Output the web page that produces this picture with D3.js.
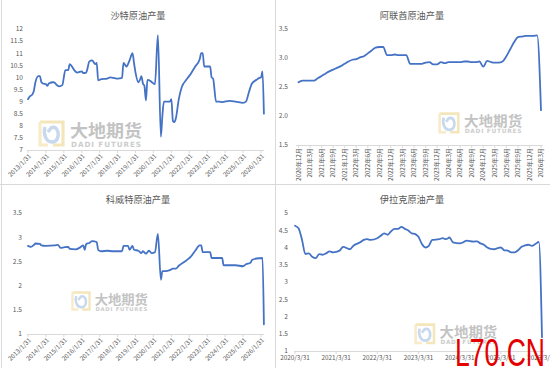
<!DOCTYPE html>
<html><head><meta charset="utf-8">
<script src="https://cdn.jsdelivr.net/npm/d3@7/dist/d3.min.js"></script>
<style>
html,body{margin:0;padding:0;background:#fff;}
svg{display:block;font-family:"Noto Sans CJK SC","Noto Sans",sans-serif;}
</style></head>
<body><svg id="c" width="550" height="368"></svg>
<script>
// ---------------- DATA ----------------
const titles = ["沙特原油产量", "阿联酋原油产量", "科威特原油产量", "伊拉克原油产量"];

const saudiDates = ["2013-01","2013-02","2013-04","2013-05","2013-06","2013-08","2013-09","2013-10","2013-11","2014-01","2014-02","2014-03","2014-06","2014-07","2014-08","2014-10","2014-12","2015-02","2015-04","2015-05","2015-07","2015-08","2015-10","2016-01","2016-02","2016-04","2016-05","2016-06","2016-08","2016-10","2016-11","2016-12","2017-02","2017-06","2017-08","2017-11","2018-01","2018-04","2018-05","2018-07","2018-08","2018-09","2018-11","2018-12","2019-01","2019-03","2019-04","2019-05","2019-06","2019-07","2019-08","2019-09","2019-11","2019-12","2020-02","2020-04","2020-06","2020-07","2020-08","2020-12","2021-01","2021-02","2021-03","2021-04","2021-06","2021-08","2021-11","2022-02","2022-05","2022-08","2022-09","2022-10","2022-11","2023-03","2023-04","2023-05","2023-07","2023-09","2023-11","2024-04","2024-08","2025-01","2025-03","2025-05","2025-07","2025-10","2025-12","2026-01","2026-02","2026-03"];
const saudiValues = [9.1,9.2,9.3,9.45,9.8,10.05,10.05,9.8,9.75,9.72,9.65,9.75,9.8,9.78,9.7,9.63,9.68,10.3,10.3,10.55,10.4,10.3,10.2,10.25,10.18,10.2,10.4,10.65,10.7,10.55,10.6,9.88,9.93,9.95,10.0,9.97,9.95,9.98,10.6,10.45,10.55,10.7,11.0,10.6,10.2,9.8,9.9,10.05,9.75,9.65,9.05,9.9,9.85,9.8,9.72,11.75,7.55,8.4,9.0,9.0,9.1,8.2,8.15,8.3,9.1,9.6,9.9,10.15,10.45,10.75,11.0,11.0,10.45,10.45,10.0,9.95,9.0,9.0,8.98,9.03,9.0,8.95,9.0,9.4,9.75,9.9,9.98,10.0,10.25,8.5];

const kuwaitDates = ["2013-01","2013-03","2013-05","2013-06","2013-09","2013-10","2014-01","2014-07","2014-09","2014-11","2015-01","2015-04","2015-05","2015-09","2015-12","2016-02","2016-03","2016-04","2016-06","2016-08","2016-11","2016-12","2017-02","2017-06","2017-10","2018-04","2018-05","2018-08","2018-09","2018-11","2018-12","2019-03","2019-05","2019-06","2019-08","2019-10","2019-12","2020-02","2020-04","2020-06","2020-07","2020-09","2020-12","2021-02","2021-04","2021-06","2021-11","2022-02","2022-05","2022-08","2022-09","2022-10","2023-03","2023-04","2023-11","2023-12","2024-08","2025-01","2025-03","2025-06","2025-07","2025-10","2026-02","2026-03"];
const kuwaitValues = [2.82,2.8,2.84,2.87,2.86,2.83,2.82,2.83,2.84,2.78,2.79,2.8,2.76,2.75,2.79,2.83,2.74,2.86,2.88,2.92,2.9,2.74,2.71,2.72,2.71,2.71,2.82,2.82,2.74,2.82,2.74,2.72,2.67,2.71,2.66,2.72,2.67,2.69,3.07,2.12,2.3,2.3,2.32,2.35,2.35,2.41,2.52,2.6,2.72,2.83,2.83,2.69,2.69,2.57,2.57,2.42,2.42,2.4,2.44,2.47,2.53,2.56,2.57,1.2];

const uaeStart = "2020-12";
const uaeValues = [2.58,2.61,2.61,2.61,2.61,2.65,2.69,2.73,2.77,2.8,2.83,2.86,2.9,2.94,2.97,2.98,3.01,3.03,3.08,3.13,3.18,3.19,3.19,3.05,3.05,3.06,3.05,3.05,3.05,2.9,2.9,2.9,2.9,2.92,2.93,2.89,2.89,2.93,2.91,2.93,2.93,2.93,2.93,2.94,2.94,2.93,2.93,2.94,2.85,2.95,2.93,2.92,2.92,2.94,3.03,3.15,3.27,3.36,3.37,3.38,3.38,3.38,3.39,2.1];

const iraqDates = ["2020-03","2020-04","2020-05","2020-06","2020-07","2020-08","2020-09","2020-10","2020-11","2020-12","2021-01","2021-02","2021-04","2021-05","2021-07","2021-08","2021-10","2021-11","2021-12","2022-01","2022-03","2022-04","2022-05","2022-06","2022-07","2022-08","2022-09","2022-10","2022-11","2022-12","2023-01","2023-02","2023-03","2023-04","2023-05","2023-06","2023-07","2023-09","2023-10","2023-11","2023-12","2024-01","2024-03","2024-04","2024-05","2024-07","2024-08","2024-09","2024-10","2024-11","2024-12","2025-01","2025-02","2025-03","2025-04","2025-05","2025-06","2025-07","2025-08","2025-09","2025-10","2025-11","2025-12","2026-01","2026-02","2026-03"];
const iraqValues = [4.63,4.56,4.24,3.81,3.83,3.73,3.69,3.81,3.79,3.83,3.89,3.86,3.91,4.02,3.95,4.05,4.15,4.22,4.24,4.22,4.27,4.34,4.41,4.37,4.47,4.54,4.54,4.6,4.54,4.49,4.41,4.39,4.31,4.1,4.0,4.05,4.22,4.24,4.27,4.24,4.29,4.15,4.12,4.15,4.2,4.17,4.18,4.12,4.08,4.0,3.96,3.95,3.98,4.0,3.92,3.91,3.86,3.86,3.92,4.02,4.06,4.08,4.05,4.1,4.16,1.4];

const yearTickDates = ["2013-01","2014-01","2015-01","2016-01","2017-01","2018-01","2019-01","2020-01","2021-01","2022-01","2023-01","2024-01","2025-01","2026-01"];
const yearTickLabels = ["2013/1/31","2014/1/31","2015/1/31","2016/1/31","2017/1/31","2018/1/31","2019/1/31","2020/1/31","2021/1/31","2022/1/31","2023/1/31","2024/1/31","2025/1/31","2026/1/31"];
const uaeTickLabels = ["2020年12月","2021年3月","2021年6月","2021年9月","2021年12月","2022年3月","2022年6月","2022年9月","2022年12月","2023年3月","2023年6月","2023年9月","2023年12月","2024年3月","2024年6月","2024年9月","2024年12月","2025年3月","2025年6月","2025年9月","2025年12月","2026年3月"];
const iraqTickDates = ["2020-03","2021-03","2022-03","2023-03","2024-03","2025-03","2026-03"];
const iraqTickLabels = ["2020/3/31","2021/3/31","2022/3/31","2023/3/31","2024/3/31","2025/3/31","2026/3/31"];

// ---------------- DRAW ----------------
const svg = d3.select("#c");
const pm = d3.timeParse("%Y-%m");
const LINE = "#4472C4", TXT = "#595959", AX = "#d9d9d9";
const fmtNum = d => String(+d.toFixed(1));

// panel separators
svg.append("line").attr("x1",1.5).attr("x2",1.5).attr("y1",0).attr("y2",368).attr("stroke",AX);
svg.append("line").attr("x1",275.5).attr("x2",275.5).attr("y1",0).attr("y2",368).attr("stroke",AX);
svg.append("line").attr("x1",0).attr("x2",550).attr("y1",184.5).attr("y2",184.5).attr("stroke",AX);

function title(cx, y, t){
  svg.append("text").attr("x",cx).attr("y",y).attr("text-anchor","middle")
    .attr("font-size",9.2).attr("fill",TXT).text(t);
}
function yAxis(y, xRight, x0, x1, ticks, fmt){
  const g = svg.append("g");
  ticks.forEach(v => {
    g.append("text").attr("x",xRight).attr("y",y(v)).attr("dy","0.35em")
      .attr("text-anchor","end").attr("font-size",6.6).attr("fill",TXT).text(fmt(v));
  });
  g.append("line").attr("x1",x0).attr("x2",x1).attr("y1",y(ticks[0])+0.5).attr("y2",y(ticks[0])+0.5)
    .attr("stroke",AX).attr("stroke-width",1);
}
function drawLine(data, x, y){
  svg.append("path").datum(data)
    .attr("fill","none").attr("stroke",LINE).attr("stroke-width",1.8)
    .attr("stroke-linejoin","round").attr("stroke-linecap","round")
    .attr("d", d3.line().x(d=>x(d[0])).y(d=>y(d[1])).curve(d3.curveMonotoneX));
}
function logo(x, y, s){
  const g = svg.append("g").attr("transform",`translate(${x},${y}) scale(${s})`).attr("opacity",0.85);
  g.append("path").attr("d","M2,2 H25 V25 H15").attr("fill","none").attr("stroke","#f3e2b0").attr("stroke-width",3.2);
  g.append("path").attr("d","M2,2 V25 H10").attr("fill","none").attr("stroke","#f6e8c0").attr("stroke-width",3.2);
  g.append("path").attr("d","M7,7 C5,14 8,22 14,22 C19,22 21,17 20,12 C19,8 16,6 13,8 L10,12")
    .attr("fill","none").attr("stroke","#bfd2ea").attr("stroke-width",3.4);
  g.append("text").attr("x",32).attr("y",17).attr("font-size",17.5).attr("font-weight",700)
    .attr("fill","#b9b9b9").attr("textLength",72).attr("lengthAdjust","spacingAndGlyphs").text("大地期货");
  g.append("text").attr("x",33).attr("y",26.5).attr("font-size",7.2).attr("font-weight",700)
    .attr("fill","#c4c4c4").attr("textLength",70).attr("lengthAdjust","spacing").attr("font-family","DejaVu Sans")
    .text("DADI FUTURES");
}

// ---- Panel 1: Saudi ----
{
  const x = d3.scaleTime().domain([pm("2013-01"), pm("2026-01")]).range([28, 261]);
  const y = d3.scaleLinear().domain([7,12]).range([150,29]);
  logo(38,120,1);
  title(138, 19, titles[0]);
  yAxis(y, 23, 27, 264, d3.range(7,12.01,0.5), fmtNum);
  yearTickDates.forEach((d,i)=>{
    const px = x(pm(d));
    svg.append("line").attr("x1",px).attr("x2",px).attr("y1",150).attr("y2",153).attr("stroke",AX);
    svg.append("text").attr("transform",`translate(${px+2},${155}) rotate(-45)`)
      .attr("text-anchor","end").attr("dy","0.35em").attr("font-size",6.3).attr("fill",TXT).text(yearTickLabels[i]);
  });
  drawLine(saudiDates.map((d,i)=>[pm(d), saudiValues[i]]), x, y);
}
// ---- Panel 3: Kuwait ----
{
  const x = d3.scaleTime().domain([pm("2013-01"), pm("2026-01")]).range([28, 261]);
  const y = d3.scaleLinear().domain([1,3.5]).range([334,213]);
  logo(71,291,0.74);
  title(138, 203, titles[2]);
  yAxis(y, 22, 27, 264, d3.range(1,3.51,0.5), fmtNum);
  yearTickDates.forEach((d,i)=>{
    const px = x(pm(d));
    svg.append("line").attr("x1",px).attr("x2",px).attr("y1",334).attr("y2",337).attr("stroke",AX);
    svg.append("text").attr("transform",`translate(${px+2},${339}) rotate(-45)`)
      .attr("text-anchor","end").attr("dy","0.35em").attr("font-size",6.3).attr("fill",TXT).text(yearTickLabels[i]);
  });
  drawLine(kuwaitDates.map((d,i)=>[pm(d), kuwaitValues[i]]), x, y);
}
// ---- Panel 2: UAE ----
{
  const months = d3.timeMonth.range(pm(uaeStart), d3.timeMonth.offset(pm(uaeStart), uaeValues.length));
  const x = d3.scalePoint().domain(d3.range(months.length)).range([298.5, 541]);
  const y = d3.scaleLinear().domain([1.5,3.5]).range([145,29]);
  logo(438,112,0.81);
  title(412, 19, titles[1]);
  yAxis(y, 288, 296, 543, d3.range(1.5,3.51,0.5), d3.format(".1f"));
  uaeTickLabels.forEach((t,i)=>{
    const px = x(i*3);
    svg.append("line").attr("x1",px).attr("x2",px).attr("y1",145).attr("y2",148).attr("stroke",AX);
    svg.append("text").attr("transform",`translate(${px},${148}) rotate(-90)`)
      .attr("text-anchor","end").attr("dy","0.35em").attr("font-size",6.2).attr("fill",TXT).text(t);
  });
  drawLine(uaeValues.map((v,i)=>[i, v]), x, y);
}
// ---- Panel 4: Iraq ----
{
  const x = d3.scaleTime().domain([pm("2020-03"), pm("2026-03")]).range([295, 542]);
  const y = d3.scaleLinear().domain([1,5]).range([351,213]);
  logo(414,323,0.8);
  title(412, 203, titles[3]);
  yAxis(y, 288, 294, 544, d3.range(1,5.01,0.5), fmtNum);
  iraqTickDates.forEach((d,i)=>{
    const px = x(pm(d));
    svg.append("line").attr("x1",px).attr("x2",px).attr("y1",351).attr("y2",354).attr("stroke",AX);
    svg.append("text").attr("x",px).attr("y",360).attr("text-anchor","middle")
      .attr("font-size",6.3).attr("fill",TXT).text(iraqTickLabels[i]);
  });
  drawLine(iraqDates.map((d,i)=>[pm(d), iraqValues[i]]), x, y);
}
// site watermark
svg.append("text").attr("x",455).attr("y",366).attr("font-size",38).attr("fill","#e50000")
  .attr("font-family","Liberation Sans, Arial, sans-serif")
  .attr("textLength",90).attr("lengthAdjust","spacingAndGlyphs").text("L70.CN");
</script></body></html>
